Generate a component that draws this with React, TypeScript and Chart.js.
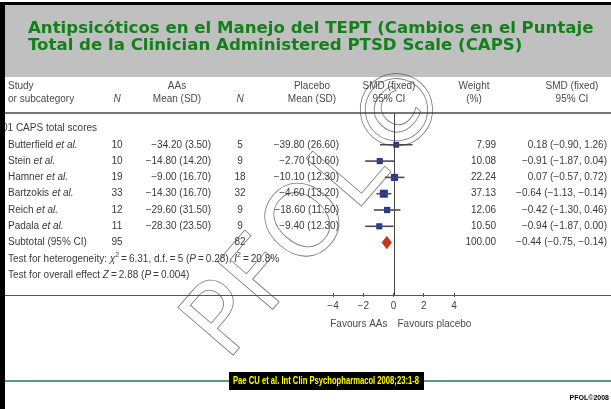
import React, { useEffect, useRef } from "react";
import { Chart, registerables } from "chart.js";
Chart.register(...registerables);

const titleLines = [
  "Antipsicóticos en el Manejo del TEPT (Cambios en el Puntaje",
  "Total de la Clinician Administered PTSD Scale (CAPS)",
];
const groupLabel = "01 CAPS total scores";
const studyNames = ["Butterfield", "Stein", "Hamner", "Bartzokis", "Reich", "Padala"];
const nAAs = [10, 10, 19, 33, 12, 11];
const meanAAs = [-34.2, -14.8, -9.0, -14.3, -29.6, -28.3];
const sdAAs = [3.5, 14.2, 16.7, 16.7, 31.5, 23.5];
const nPlacebo = [5, 9, 18, 32, 9, 9];
const meanPlacebo = [-39.8, -2.7, -10.1, -4.6, -18.6, -9.4];
const sdPlacebo = [26.6, 10.6, 12.3, 13.2, 11.5, 12.3];
const weights = [7.99, 10.08, 22.24, 37.13, 12.06, 10.5];
const smd = [0.18, -0.91, 0.07, -0.64, -0.42, -0.94];
const ciLow = [-0.9, -1.87, -0.57, -1.13, -1.3, -1.87];
const ciHigh = [1.26, 0.04, 0.72, -0.14, 0.46, 0.0];
const subtotalN = [95, 82];
const subtotalWeight = 100.0;
const subtotalSmd = [-0.44, -0.75, -0.14];
const hetStats = { chi2: 6.31, df: 5, p: 0.28, i2: 20.8 };
const overallStats = { z: 2.88, p: 0.004 };
const xTicks = [-4, -2, 0, 2, 4];
const citation = "Pae CU et al. Int Clin Psychopharmacol 2008;23:1-8";
const copyright = "PFOL©2008";
const watermark = "PFOL©";

const FONT = '"Liberation Sans", Arial, sans-serif';
const TXT = "#3a3a3a";

function fmt(v: number, d: number) {
  return (v < 0 ? "\u2212" : "") + Math.abs(v).toFixed(d);
}

type Run = [string, string];

function drawRuns(ctx: CanvasRenderingContext2D, runs: Run[], x: number, y: number, align: string) {
  const fontFor = (k: string) =>
    k === "i" ? `italic 10px ${FONT}` : k === "s" ? `7px ${FONT}` : `10px ${FONT}`;
  let total = 0;
  for (const [t, k] of runs) {
    ctx.font = fontFor(k);
    total += ctx.measureText(t).width;
  }
  let cx = align === "right" ? x - total : align === "center" ? x - total / 2 : x;
  ctx.textAlign = "left";
  ctx.textBaseline = "middle";
  for (const [t, k] of runs) {
    ctx.font = fontFor(k);
    ctx.fillText(t, cx, k === "s" ? y - 4 : y);
    cx += ctx.measureText(t).width;
  }
}

const ROW_TOP = -0.951;
const ROW_BOTTOM = 10.092;

export default function App() {
  const ref = useRef<HTMLCanvasElement | null>(null);
  useEffect(() => {
    const canvas = ref.current;
    if (!canvas) return;
    const subRow = studyNames.length + 1;
    const diamondH = 0.37;
    const sizes = weights.map((w) => (4 + 4 * Math.sqrt(w / 37.13)) / Math.SQRT2);

    const slidePlugin = {
      id: "slide",
      beforeDraw(chart: any) {
        const ctx = chart.ctx as CanvasRenderingContext2D;
        ctx.save();
        ctx.fillStyle = "#ffffff";
        ctx.fillRect(0, 0, 611, 409);
        ctx.fillStyle = "#c0c0c0";
        ctx.fillRect(5, 5, 606, 72);
        ctx.fillStyle = "#13801a";
        ctx.font = 'bold 16.6px "DejaVu Sans", Verdana, sans-serif';
        ctx.textBaseline = "alphabetic";
        ctx.textAlign = "left";
        ctx.fillText(titleLines[0], 28, 33);
        ctx.fillText(titleLines[1], 28, 50);
        ctx.restore();
      },
      beforeDatasetsDraw(chart: any) {
        const ctx = chart.ctx as CanvasRenderingContext2D;
        const xs = chart.scales.x;
        ctx.save();
        ctx.strokeStyle = "#777";
        ctx.lineWidth = 2;
        ctx.beginPath();
        ctx.moveTo(5, 113);
        ctx.lineTo(611, 113);
        ctx.stroke();
        ctx.strokeStyle = "#555";
        ctx.lineWidth = 1;
        ctx.beginPath();
        ctx.moveTo(5, 295.5);
        ctx.lineTo(611, 295.5);
        ctx.stroke();
        const x0 = Math.round(xs.getPixelForValue(0)) + 0.5;
        ctx.strokeStyle = "#444";
        ctx.beginPath();
        ctx.moveTo(x0, 113);
        ctx.lineTo(x0, 295);
        ctx.stroke();
        ctx.restore();
      },
      afterDraw(chart: any) {
        const ctx = chart.ctx as CanvasRenderingContext2D;
        const ys = chart.scales.y;
        const xs = chart.scales.x;
        ctx.save();
        ctx.fillStyle = "#4a4a4a";
        const h1 = 86, h2 = 99;
        drawRuns(ctx, [["Study", "n"]], 8, h1, "left");
        drawRuns(ctx, [["or subcategory", "n"]], 8, h2, "left");
        drawRuns(ctx, [["N", "i"]], 117, h2, "center");
        drawRuns(ctx, [["AAs", "n"]], 177, h1, "center");
        drawRuns(ctx, [["Mean (SD)", "n"]], 177, h2, "center");
        drawRuns(ctx, [["N", "i"]], 240, h2, "center");
        drawRuns(ctx, [["Placebo", "n"]], 312, h1, "center");
        drawRuns(ctx, [["Mean (SD)", "n"]], 312, h2, "center");
        drawRuns(ctx, [["SMD (fixed)", "n"]], 389, h1, "center");
        drawRuns(ctx, [["95% CI", "n"]], 389, h2, "center");
        drawRuns(ctx, [["Weight", "n"]], 474, h1, "center");
        drawRuns(ctx, [["(%)", "n"]], 474, h2, "center");
        drawRuns(ctx, [["SMD (fixed)", "n"]], 572, h1, "center");
        drawRuns(ctx, [["95% CI", "n"]], 572, h2, "center");

        ctx.fillStyle = TXT;
        drawRuns(ctx, [[groupLabel, "n"]], 2, ys.getPixelForValue(0), "left");
        studyNames.forEach((name, i) => {
          const y = ys.getPixelForValue(i + 1);
          drawRuns(ctx, [[name + " ", "n"], ["et al.", "i"]], 8, y, "left");
          drawRuns(ctx, [[String(nAAs[i]), "n"]], 117, y, "center");
          drawRuns(ctx, [[`${fmt(meanAAs[i], 2)} (${sdAAs[i].toFixed(2)})`, "n"]], 211, y, "right");
          drawRuns(ctx, [[String(nPlacebo[i]), "n"]], 240, y, "center");
          drawRuns(ctx, [[`${fmt(meanPlacebo[i], 2)} (${sdPlacebo[i].toFixed(2)})`, "n"]], 339, y, "right");
          drawRuns(ctx, [[weights[i].toFixed(2), "n"]], 496, y, "right");
          drawRuns(ctx, [[`${fmt(smd[i], 2)} (${fmt(ciLow[i], 2)}, ${fmt(ciHigh[i], 2)})`, "n"]], 607, y, "right");
        });
        const ySub = ys.getPixelForValue(subRow);
        drawRuns(ctx, [["Subtotal (95% CI)", "n"]], 8, ySub, "left");
        drawRuns(ctx, [[String(subtotalN[0]), "n"]], 117, ySub, "center");
        drawRuns(ctx, [[String(subtotalN[1]), "n"]], 240, ySub, "center");
        drawRuns(ctx, [[subtotalWeight.toFixed(2), "n"]], 496, ySub, "right");
        drawRuns(ctx, [[`${fmt(subtotalSmd[0], 2)} (${fmt(subtotalSmd[1], 2)}, ${fmt(subtotalSmd[2], 2)})`, "n"]], 607, ySub, "right");
        const th = "\u2009";
        drawRuns(ctx, [
          ["Test for heterogeneity: ", "n"], ["χ", "i"], ["2", "s"],
          [`${th}=${th}${hetStats.chi2.toFixed(2)}, d.f.${th}=${th}${hetStats.df} (`, "n"], ["P", "i"],
          [`${th}=${th}${hetStats.p.toFixed(2)}), `, "n"], ["I", "i"], ["2", "s"],
          [`${th}=${th}${hetStats.i2.toFixed(1)}%`, "n"],
        ], 8, ys.getPixelForValue(subRow + 1), "left");
        drawRuns(ctx, [
          ["Test for overall effect ", "n"], ["Z", "i"],
          [`${th}=${th}${overallStats.z.toFixed(2)} (`, "n"], ["P", "i"],
          [`${th}=${th}${overallStats.p.toFixed(3)})`, "n"],
        ], 8, ys.getPixelForValue(subRow + 2), "left");

        ctx.fillStyle = "#4a4a4a";
        const x0 = xs.getPixelForValue(0);
        drawRuns(ctx, [["Favours AAs", "n"]], x0 - 6, 324, "right");
        drawRuns(ctx, [["Favours placebo", "n"]], x0 + 4, 324, "left");

        // watermark
        ctx.save();
        ctx.translate(322, 212);
        ctx.rotate(-0.86);
        ctx.font = '100px "DejaVu Sans", sans-serif';
        ctx.textAlign = "center";
        ctx.textBaseline = "middle";
        ctx.strokeStyle = "rgba(60,60,60,0.7)";
        ctx.lineWidth = 0.8;
        ctx.strokeText(watermark, 0, 0);
        ctx.restore();

        // borders & footer
        ctx.fillStyle = "#000";
        ctx.fillRect(0, 2, 611, 3);
        ctx.fillRect(0, 2, 5, 407);
        ctx.fillStyle = "#5a9a7c";
        ctx.fillRect(5, 380, 606, 2);
        ctx.fillStyle = "#000";
        ctx.fillRect(229, 372, 195, 18);
        ctx.fillStyle = "#ffff00";
        ctx.font = `bold 10px "Liberation Sans Narrow", "Liberation Sans", Arial, sans-serif`;
        ctx.textAlign = "center";
        ctx.textBaseline = "middle";
        ctx.fillText(citation, 326, 381, 186);
        ctx.fillStyle = "#000";
        ctx.font = `bold 7px "Liberation Sans", Arial, sans-serif`;
        ctx.textAlign = "right";
        ctx.fillText(copyright, 609, 398);
        ctx.restore();
      },
    };

    const ciDatasets = studyNames.map((_, i) => ({
      data: [
        { x: ciLow[i], y: i + 1 },
        { x: ciHigh[i], y: i + 1 },
      ],
      showLine: true,
      borderColor: "#4a4a4a",
      borderWidth: 1.6,
      pointRadius: 0,
    }));

    const chart = new Chart(canvas, {
      type: "scatter",
      data: {
        datasets: [
          ...ciDatasets,
          {
            data: smd.map((v, i) => ({ x: v, y: i + 1 })),
            pointStyle: "rect",
            pointRadius: sizes,
            backgroundColor: "#22369a",
            borderWidth: 0,
          },
          {
            data: [
              { x: subtotalSmd[1], y: subRow },
              { x: subtotalSmd[0], y: subRow - diamondH },
              { x: subtotalSmd[2], y: subRow },
              { x: subtotalSmd[0], y: subRow + diamondH },
              { x: subtotalSmd[1], y: subRow },
            ],
            showLine: true,
            fill: "shape",
            backgroundColor: "#c23a16",
            borderColor: "#c23a16",
            borderWidth: 1,
            pointRadius: 0,
            tension: 0,
          },
        ] as any,
      },
      options: {
        animation: false,
        responsive: false,
        events: [],
        layout: { padding: { left: 333, right: 157, top: 113, bottom: 86 } },
        plugins: { legend: { display: false }, tooltip: { enabled: false } },
        scales: {
          x: {
            type: "linear",
            min: -4,
            max: 4,
            afterBuildTicks: (scale: any) => {
              scale.ticks = xTicks.map((v) => ({ value: v }));
            },
            afterFit: (scale: any) => {
              scale.height = 30;
            },
            ticks: {
              padding: 3,
              color: "#444",
              font: { family: FONT, size: 10 },
              callback: (v: any) => fmt(Number(v), 0),
            },
            grid: {
              display: true,
              drawOnChartArea: false,
              drawTicks: true,
              tickLength: 4,
              color: "#555",
            },
            border: { display: false },
          },
          y: {
            type: "linear",
            reverse: true,
            min: ROW_TOP,
            max: ROW_BOTTOM,
            display: false,
          },
        },
      },
      plugins: [slidePlugin],
    } as any);
    return () => chart.destroy();
  }, []);

  return (
    <div style={{ position: "absolute", left: 0, top: 0, width: 611, height: 409 }}>
      <canvas ref={ref} width={611} height={409} style={{ width: 611, height: 409, display: "block" }} />
    </div>
  );
}
